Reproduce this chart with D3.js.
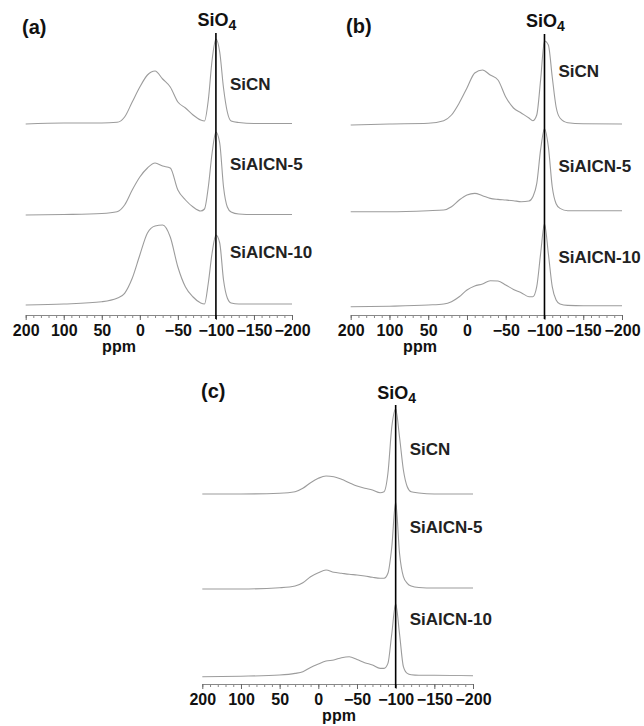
<!DOCTYPE html>
<html>
<head>
<meta charset="utf-8">
<script src="https://cdn.jsdelivr.net/npm/d3@7"></script>
<style>
  body { margin: 0; background: #fff; }
  svg { display: block; font-family: "Liberation Sans", Arial, sans-serif; }
</style>
</head>
<body>
<svg id="chart" width="644" height="726"></svg>
<script>
// chemical shift grid (ppm) shared by all spectra
const ppm = [200, 100, 50, 30, 20, 10, 0, -10, -20, -30, -40, -50, -60, -70, -80, -85,
  -90, -95, -100, -105, -110, -115, -120, -130, -150, -200];

const sampleNames = ["SiCN", "SiAlCN-5", "SiAlCN-10"];
const tickLabels = [200, 100, 50, 0, -50, -100, -150, -200];
const sio4Shift = -100;

// intensities (a.u.)
const aSiCN     = [0, 1, 1, 1.7, 7, 22, 37, 49, 53, 45, 37, 22, 16, 9, 4, 3, 24, 64, 85, 72, 36, 12, 3, 1.5, 0.5, 0.5];
const aSiAlCN5  = [0, 0.5, 1.5, 3.3, 10, 25, 38, 47, 52, 49, 47, 25, 15, 8, 4, 6, 28, 62, 83, 72, 28, 8, 3, 1, 0.5, 0.5];
const aSiAlCN10 = [0, 1, 3.3, 6.7, 11.7, 26.7, 50, 72, 79, 80, 68, 38, 18, 8, 2, 1, 22, 52, 70, 62, 25, 7, 2, 1, 1, 1];

const bSiCN     = [0, 1, 1.7, 4.3, 10, 22, 37, 52, 55, 50, 45, 28, 17, 12, 7, 4.3, 10, 45, 84, 80, 48, 18, 7, 2.3, 1.3, 1];
const bSiAlCN5  = [0, 0, 1, 1.7, 5, 11.7, 16.7, 18.3, 16, 13.3, 12.3, 11.7, 11, 10, 10.7, 15, 28, 62, 83, 65, 25, 8, 3.3, 1, 1, 1];
const bSiAlCN10 = [0, 0.5, 1.7, 2.7, 5, 10, 16.7, 20.7, 22.7, 26, 25.7, 21.7, 17.3, 14, 10, 10, 20, 53, 83, 53, 20, 6.7, 2.7, 1.3, 1, 1];

const cSiCN     = [0, 0, 0.7, 2.3, 5.7, 11.3, 15.7, 18, 17.3, 14.7, 11.3, 8, 5.7, 4, 1.3, 2.3, 20.7, 67, 85, 57, 24, 7.3, 2.3, 1, 0, 0];
const cSiAlCN5  = [0, 0, 1.3, 3, 6.3, 12.3, 16.3, 19, 16.7, 15.7, 14.7, 14, 13, 11.7, 10.7, 10.7, 15.7, 42, 87, 35.7, 12.3, 5.7, 3, 1.5, 1, 1];
const cSiAlCN10 = [0, 0.5, 1.7, 3.3, 5, 9.3, 12.7, 15.7, 16.7, 19, 20, 17.3, 14, 11.7, 8.3, 8.3, 13.3, 43, 73, 43, 10, 3.3, 2, 1.5, 1.5, 1];

// layout of the three panels
const panels = [
  { letter: "(a)", series: [aSiCN, aSiAlCN5, aSiAlCN10], x0: 25.7, x1: 292, axisY: 315,
    offsets: [191, 100, 10], labelY: [90, 170, 258], letterX: 22, letterY: 34,
    sioY: 26, lineTop: 33, ppmX: 119 },
  { letter: "(b)", series: [bSiCN, bSiAlCN5, bSiAlCN10], x0: 350.7, x1: 622, axisY: 315,
    offsets: [190, 103.3, 8.3], labelY: [77, 172, 263], letterX: 346, letterY: 33,
    sioY: 27, lineTop: 34, ppmX: 420 },
  { letter: "(c)", series: [cSiCN, cSiAlCN5, cSiAlCN10], x0: 202.3, x1: 473, axisY: 684,
    offsets: [190, 95, 7.3], labelY: [455, 533, 625], letterX: 201, letterY: 398,
    sioY: 399, lineTop: 405, ppmX: 339 }
];

const svg = d3.select("#chart");

panels.forEach(p => {
  const g = svg.append("g");
  const step = (p.x1 - p.x0) / 7;
  // labels are spaced evenly on the original axis, so the scale is piecewise
  const x = d3.scaleLinear().domain([200, 100, -200]).range([p.x0, p.x0 + step, p.x1]);
  const y = d3.scaleLinear().domain([0, 300]).range([p.axisY, p.axisY - 300]);

  // spectra
  p.series.forEach((vals, i) => {
    const pts = ppm.map((d, k) => [d, vals[k] + p.offsets[i]]);
    const line = d3.line()
      .x(d => x(d[0]))
      .y(d => y(d[1]))
      .curve(d3.curveMonotoneX);
    g.append("path")
      .attr("d", line(pts))
      .attr("fill", "none")
      .attr("stroke", "#9c9c9c")
      .attr("stroke-width", 1.1);

    g.append("text")
      .attr("x", x(sio4Shift) + 14)
      .attr("y", p.labelY[i])
      .attr("font-size", 17)
      .attr("font-weight", "bold")
      .attr("fill", "#222")
      .text(sampleNames[i]);
  });

  // minor ticks
  const minor = d3.range(200, 100, -20).concat(d3.range(100, -201, -10));
  const minorAxis = g.append("g")
    .attr("transform", `translate(0,${p.axisY})`)
    .call(d3.axisBottom(x).tickValues(minor).tickSize(3).tickFormat(""));
  minorAxis.select(".domain").remove();
  minorAxis.selectAll("line").attr("stroke", "#888");

  const axis = g.append("g")
    .attr("transform", `translate(0,${p.axisY})`)
    .call(d3.axisBottom(x).tickValues(tickLabels).tickSize(5).tickSizeOuter(0).tickPadding(5));
  axis.select(".domain").attr("stroke", "#888");
  axis.selectAll(".tick line").attr("stroke", "#666");
  axis.selectAll("text")
    .attr("font-size", 16)
    .attr("font-weight", "bold")
    .attr("font-family", "'Liberation Sans', Arial, sans-serif")
    .attr("fill", "#111");

  g.append("text")
    .attr("x", p.ppmX)
    .attr("y", p.axisY + 37)
    .attr("text-anchor", "middle")
    .attr("font-size", 16)
    .attr("font-weight", "bold")
    .attr("fill", "#111")
    .text("ppm");

  // SiO4 marker line
  g.append("line")
    .attr("x1", x(sio4Shift)).attr("x2", x(sio4Shift))
    .attr("y1", p.lineTop).attr("y2", p.axisY + 4)
    .attr("stroke", "#000")
    .attr("stroke-width", 1.6);

  const sio = g.append("text")
    .attr("x", x(sio4Shift) + 1)
    .attr("y", p.sioY)
    .attr("text-anchor", "middle")
    .attr("font-size", 18)
    .attr("font-weight", "bold")
    .attr("fill", "#111");
  sio.append("tspan").text("SiO");
  sio.append("tspan").attr("dy", 4).attr("font-size", 14).text("4");

  g.append("text")
    .attr("x", p.letterX)
    .attr("y", p.letterY)
    .attr("font-size", 20)
    .attr("font-weight", "bold")
    .attr("fill", "#111")
    .text(p.letter);
});
</script>
</body>
</html>
